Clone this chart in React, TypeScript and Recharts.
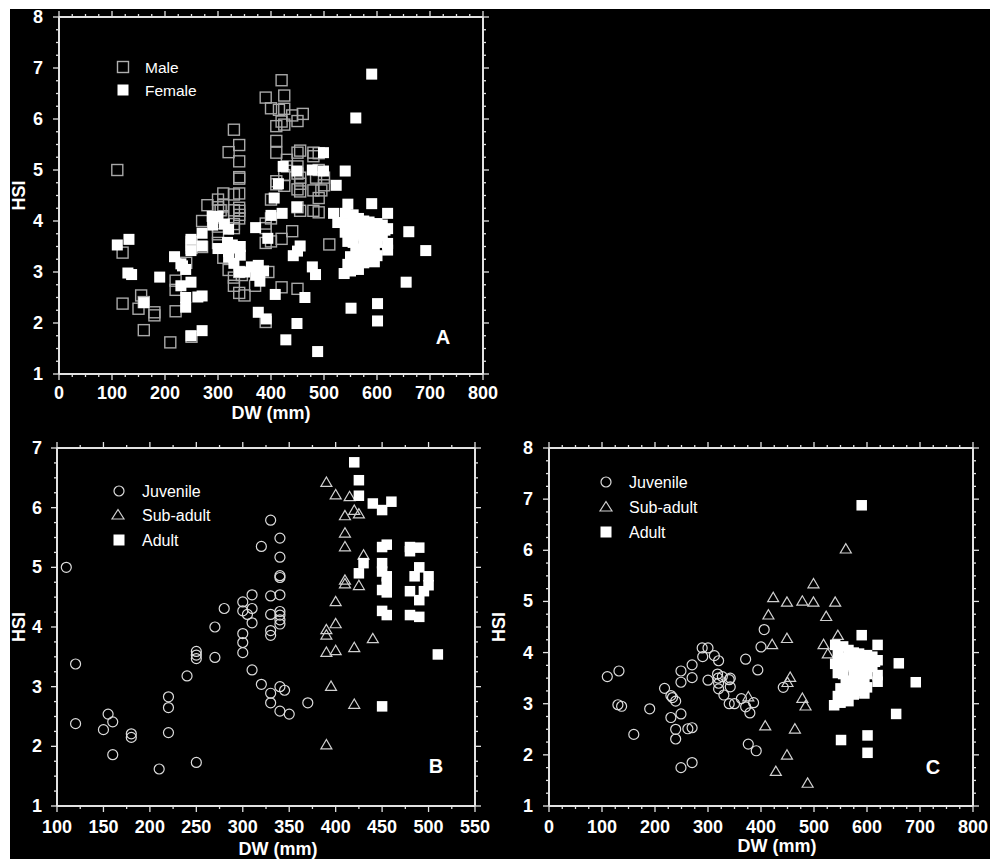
import React from 'react';
import { ScatterChart, Scatter, XAxis, YAxis } from 'recharts';

type P = [number, number];

// ---------- Data (DW mm, HSI) ----------
// Panel B (males by maturity)
const bJuvenile: P[] = [
  [110, 5.0], [120, 3.38], [120, 2.38], [150, 2.28], [155, 2.54], [160, 2.41], [160, 1.86],
  [180, 2.21], [180, 2.15], [210, 1.62], [220, 2.83], [220, 2.65], [220, 2.23], [240, 3.18],
  [250, 3.59], [250, 3.53], [250, 3.47], [250, 1.73], [270, 4.0], [270, 3.49], [280, 4.31],
  [300, 4.42], [300, 4.27], [300, 3.89], [300, 3.74], [300, 3.57], [305, 4.21], [310, 4.54],
  [310, 4.31], [310, 4.07], [310, 3.28], [320, 5.35], [320, 3.04], [330, 5.79], [330, 4.52],
  [330, 4.21], [330, 3.94], [330, 3.86], [330, 2.89], [330, 2.73], [340, 5.49], [340, 5.17],
  [340, 4.86], [340, 4.83], [340, 4.54], [340, 4.26], [340, 4.2], [340, 4.12], [340, 4.05],
  [340, 3.0], [340, 2.59], [345, 2.94], [350, 2.54], [370, 2.73],
];
const bSubAdult: P[] = [
  [390, 6.42], [400, 6.21], [415, 6.18], [420, 5.95], [425, 5.89], [410, 5.86], [410, 5.57],
  [410, 5.34], [430, 5.2], [410, 4.78], [410, 4.72], [425, 4.69], [400, 4.42], [400, 4.05],
  [390, 3.95], [390, 3.86], [440, 3.8], [420, 3.65], [390, 3.57], [400, 3.6], [395, 3.0],
  [420, 2.7], [390, 2.02],
];
const bAdult: P[] = [
  [420, 6.76], [425, 6.46], [425, 6.2], [440, 6.07], [450, 5.96], [460, 6.1], [450, 5.34],
  [455, 5.38], [430, 5.07], [425, 4.9], [450, 5.07], [450, 4.93], [455, 4.85], [455, 4.73],
  [450, 4.62], [455, 4.58], [450, 4.27], [455, 4.2], [480, 5.34], [490, 5.33], [480, 5.27],
  [490, 5.0], [485, 4.85], [500, 4.85], [500, 4.7], [480, 4.6], [495, 4.6], [490, 4.45],
  [480, 4.2], [490, 4.17], [510, 3.54], [450, 2.67],
];
// Panel C (females by maturity)
const cJuvenile: P[] = [
  [110, 3.53], [132, 3.64], [130, 2.98], [137, 2.95], [160, 2.4], [190, 2.9], [218, 3.3],
  [230, 3.16], [233, 3.12], [239, 3.05], [230, 2.73], [239, 2.5], [239, 2.31], [249, 3.64],
  [249, 3.42], [249, 2.8], [249, 1.75], [262, 2.51], [270, 2.53], [270, 1.85], [270, 3.76],
  [270, 3.51], [290, 3.92], [289, 4.09], [300, 4.09], [300, 3.46], [312, 3.94], [320, 3.84],
  [318, 3.58], [319, 3.5], [320, 3.4], [320, 3.29], [327, 3.53], [330, 3.17], [340, 3.47],
  [342, 3.5], [342, 3.33], [340, 3.0], [350, 3.0], [363, 3.1], [371, 3.87], [371, 2.94],
  [379, 2.82], [386, 3.02], [376, 2.21], [391, 2.08], [394, 3.66], [400, 4.11], [406, 4.45],
  [442, 3.32],
];
const cSubAdult: P[] = [
  [423, 5.07], [414, 4.73], [421, 4.15], [449, 4.98], [449, 4.27], [478, 5.0], [499, 4.98],
  [499, 5.34], [540, 4.98], [523, 4.7], [545, 4.33], [518, 4.15], [526, 3.97], [560, 6.02],
  [455, 3.51], [450, 3.41], [376, 3.13], [478, 3.1], [484, 2.95], [408, 2.56], [464, 2.5],
  [449, 1.99], [428, 1.67], [488, 1.44],
];
const cAdult: P[] = [
  [590, 6.88], [590, 4.34], [620, 4.15], [660, 3.79], [692, 3.42], [655, 2.8], [551, 2.29],
  [601, 2.38], [601, 2.04], [620, 3.85], [620, 3.56], [620, 3.43], [538, 2.97], [595, 3.2],
  [540, 4.15], [555, 4.12], [565, 4.05], [575, 4.0], [585, 3.98], [600, 3.95], [610, 3.92],
  [545, 3.95], [555, 3.9], [570, 3.88], [580, 3.85], [590, 3.9], [605, 3.85], [615, 3.82],
  [540, 3.78], [550, 3.72], [560, 3.75], [575, 3.72], [585, 3.7], [595, 3.75], [610, 3.72],
  [545, 3.6], [555, 3.58], [575, 3.55], [590, 3.6], [600, 3.58], [560, 3.45], [575, 3.4],
  [585, 3.42], [595, 3.48], [550, 3.3], [565, 3.28], [580, 3.3], [590, 3.25], [600, 3.32],
  [545, 3.15], [560, 3.12], [575, 3.18], [550, 3.02], [565, 3.05],
];
// Panel A: all males vs all females
const aMale: P[] = [...bJuvenile, ...bSubAdult, ...bAdult];
const aFemale: P[] = [...cJuvenile, ...cSubAdult, ...cAdult];

// Tick labels
const xMajorAC = [0, 100, 200, 300, 400, 500, 600, 700, 800];
const xMajorB = [100, 150, 200, 250, 300, 350, 400, 450, 500, 550];
const yMajor8 = [1, 2, 3, 4, 5, 6, 7, 8];
const yMajor7 = [1, 2, 3, 4, 5, 6, 7];

// ---------- Styling ----------
const FONT = '"Liberation Sans", Arial, Helvetica, sans-serif';
const AXIS = '#e2e2e2';
const WHITE = '#ffffff';

const toRows = (pts: P[]) => pts.map(([dw, hsi]) => ({ dw, hsi }));

const withMinor = (lo: number, hi: number, step: number) => {
  const out: number[] = [];
  const n = Math.round((hi - lo) / step);
  for (let i = 0; i <= n; i++) out.push(+(lo + i * step).toFixed(4));
  return out;
};
const isIn = (arr: number[], v: number) => arr.some((m) => Math.abs(m - v) < 1e-6);

// shapes
const FilledSquare = (s: number) => (p: any) =>
  p.cx == null ? <g /> : <rect x={p.cx - s / 2} y={p.cy - s / 2} width={s} height={s} fill={WHITE} />;
const OpenSquare = (s: number, color: string) => (p: any) =>
  p.cx == null ? <g /> : (
    <rect x={p.cx - s / 2} y={p.cy - s / 2} width={s} height={s} fill="none" stroke={color} strokeWidth={1.4} />
  );
const OpenCircle = (r: number) => (p: any) =>
  p.cx == null ? <g /> : <circle cx={p.cx} cy={p.cy} r={r} fill="none" stroke="#dcdcdc" strokeWidth={1.2} />;
const OpenTriangle = (w: number) => (p: any) => {
  if (p.cx == null) return <g />;
  const h = w * 0.85;
  const pts = `${p.cx},${p.cy - h * 0.6} ${p.cx - w / 2},${p.cy + h * 0.4} ${p.cx + w / 2},${p.cy + h * 0.4}`;
  return <polygon points={pts} fill="none" stroke="#d0d0d0" strokeWidth={1.2} />;
};

interface SeriesDef {
  name: string;
  data: P[];
  shape: (p: any) => React.ReactElement;
}

interface PanelProps {
  L: number; T: number; W: number; H: number;
  px0: number; px1: number; py0: number; py1: number; // page coords of the plot area
  xDomain: [number, number];
  yDomain: [number, number];
  xMajor: number[];
  yMajor: number[];
  xStep: number;
  yStep: number;
  xLabelDy: number;
  yLabelGap: number;
  xTitleX: number; xTitleY: number;
  yTitleX: number;
  series: SeriesDef[];
}

const Panel: React.FC<PanelProps> = (pp) => {
  const { L, T, W, H, px0, px1, py0, py1 } = pp;
  const wl = 40, wr = 10, ht = 10, hb = 40;
  const margin = {
    left: px0 - L - wl,
    right: L + W - px1 - wr,
    top: py0 - T - ht,
    bottom: T + H - py1 - hb,
  };
  const lx0 = px0 - L, lx1 = px1 - L, ly0 = py0 - T, ly1 = py1 - T;
  const xTicks = withMinor(pp.xDomain[0], pp.xDomain[1], pp.xStep);
  const yTicks = withMinor(pp.yDomain[0], pp.yDomain[1], pp.yStep);
  const MAJ = 6, MIN = 3;

  const xTick = (axisY: number, dir: number, label: boolean) => (props: any) => {
    const { x, payload } = props;
    const v = payload.value;
    const major = isIn(pp.xMajor, v);
    const len = major ? MAJ : MIN;
    return (
      <g>
        <line x1={x} x2={x} y1={axisY} y2={axisY + dir * len} stroke={AXIS} strokeWidth={1.3} />
        {label && major && (
          <text x={x} y={axisY + pp.xLabelDy} textAnchor="middle" dominantBaseline="central"
            fill={WHITE} fontFamily={FONT} fontWeight="bold" fontSize={18}>{v}</text>
        )}
      </g>
    );
  };
  const yTick = (axisX: number, dir: number, label: boolean) => (props: any) => {
    const { y, payload } = props;
    const v = payload.value;
    const major = isIn(pp.yMajor, v);
    const len = major ? MAJ : MIN;
    return (
      <g>
        <line x1={axisX} x2={axisX + dir * len} y1={y} y2={y} stroke={AXIS} strokeWidth={1.3} />
        {label && major && (
          <text x={axisX - pp.yLabelGap} y={y} textAnchor="end" dominantBaseline="central"
            fill={WHITE} fontFamily={FONT} fontWeight="bold" fontSize={18}>{v}</text>
        )}
      </g>
    );
  };

  const axisLine = { stroke: AXIS, strokeWidth: 2 };

  return (
    <div style={{ position: 'absolute', left: L, top: T, width: W, height: H }}>
      <ScatterChart width={W} height={H} margin={margin}>
        <XAxis xAxisId={0} type="number" dataKey="dw" domain={pp.xDomain} allowDataOverflow ticks={xTicks}
          interval={0} tickLine={false} axisLine={axisLine} tick={xTick(ly1, 1, true)} height={hb}
          label={{
            content: () => (
              <text x={pp.xTitleX - L} y={pp.xTitleY - T} textAnchor="middle" dominantBaseline="central"
                fill={WHITE} fontFamily={FONT} fontWeight="bold" fontSize={18}>DW (mm)</text>
            ),
          }} />
        <XAxis xAxisId="top" orientation="top" type="number" dataKey="dw" domain={pp.xDomain} allowDataOverflow
          ticks={xTicks} interval={0} tickLine={false} axisLine={axisLine} tick={xTick(ly0, -1, false)} height={ht} />
        <YAxis yAxisId={0} type="number" dataKey="hsi" domain={pp.yDomain} allowDataOverflow ticks={yTicks}
          interval={0} tickLine={false} axisLine={axisLine} tick={yTick(lx0, -1, true)} width={wl}
          label={{
            content: () => (
              <text x={pp.yTitleX - L} y={(ly0 + ly1) / 2} textAnchor="middle" dominantBaseline="central"
                transform={`rotate(-90 ${pp.yTitleX - L} ${(ly0 + ly1) / 2})`}
                fill={WHITE} fontFamily={FONT} fontWeight="bold" fontSize={18}>HSI</text>
            ),
          }} />
        <YAxis yAxisId="right" orientation="right" type="number" dataKey="hsi" domain={pp.yDomain} allowDataOverflow
          ticks={yTicks} interval={0} tickLine={false} axisLine={axisLine} tick={yTick(lx1, 1, false)} width={wr} />
        {pp.series.map((s) => (
          <Scatter key={s.name} name={s.name} data={toRows(s.data)} xAxisId={0} yAxisId={0}
            shape={s.shape} isAnimationActive={false} />
        ))}
      </ScatterChart>
    </div>
  );
};

const LegendItem: React.FC<{ x: number; y: number; kind: string; text: string; fs: number; tx: number }> = ({ x, y, kind, text, fs, tx }) => {
  let sym: React.ReactElement;
  if (kind === 'openSq') sym = <rect x={x - 5.5} y={y - 5.5} width={11} height={11} fill="none" stroke="#b0b0b0" strokeWidth={1.4} />;
  else if (kind === 'fillSq') sym = <rect x={x - 5.5} y={y - 5.5} width={11} height={11} fill={WHITE} />;
  else if (kind === 'circle') sym = <circle cx={x} cy={y} r={5} fill="none" stroke="#dcdcdc" strokeWidth={1.2} />;
  else sym = <polygon points={`${x},${y - 5.5} ${x - 6},${y + 4} ${x + 6},${y + 4}`} fill="none" stroke="#d0d0d0" strokeWidth={1.2} />;
  return (
    <g>
      {sym}
      <text x={tx} y={y} dominantBaseline="central" fill={WHITE} fontFamily={FONT} fontSize={fs}>{text}</text>
    </g>
  );
};

export default function App() {
  return (
    <div style={{ position: 'absolute', left: 0, top: 0, width: 990, height: 859, background: '#ffffff', overflow: 'hidden' }}>
      <div style={{ position: 'absolute', left: 10, top: 9, right: 0, bottom: 0, background: '#000000' }} />
      <Panel L={0} T={0} W={520} H={430} px0={59} px1={483} py0={17} py1={374}
        xDomain={[0, 800]} yDomain={[1, 8]} xMajor={xMajorAC} yMajor={yMajor8} xStep={25} yStep={0.25}
        xLabelDy={19} yLabelGap={16} xTitleX={271} xTitleY={413} yTitleX={19}
        series={[
          { name: 'Male', data: aMale, shape: OpenSquare(11, '#a8a8a8') },
          { name: 'Female', data: aFemale, shape: FilledSquare(11) },
        ]} />
      <Panel L={0} T={430} W={520} H={429} px0={57} px1={475} py0={448} py1={806}
        xDomain={[100, 550]} yDomain={[1, 7]} xMajor={xMajorB} yMajor={yMajor7} xStep={25} yStep={0.25}
        xLabelDy={21} yLabelGap={15} xTitleX={278} xTitleY={849} yTitleX={19}
        series={[
          { name: 'Juvenile', data: bJuvenile, shape: OpenCircle(5) },
          { name: 'Sub-adult', data: bSubAdult, shape: OpenTriangle(11) },
          { name: 'Adult', data: bAdult, shape: FilledSquare(10.5) },
        ]} />
      <Panel L={490} T={430} W={500} H={429} px0={549} px1={973} py0={448} py1={806}
        xDomain={[0, 800]} yDomain={[1, 8]} xMajor={xMajorAC} yMajor={yMajor8} xStep={25} yStep={0.25}
        xLabelDy={21} yLabelGap={16} xTitleX={777} xTitleY={846} yTitleX={499}
        series={[
          { name: 'Juvenile', data: cJuvenile, shape: OpenCircle(5) },
          { name: 'Sub-adult', data: cSubAdult, shape: OpenTriangle(11) },
          { name: 'Adult', data: cAdult, shape: FilledSquare(10.5) },
        ]} />
      <svg width={990} height={859} style={{ position: 'absolute', left: 0, top: 0, pointerEvents: 'none' }}>
        <LegendItem x={123} y={67} kind="openSq" text="Male" fs={15.5} tx={145} />
        <LegendItem x={123} y={90} kind="fillSq" text="Female" fs={15.5} tx={145} />
        <text x={443} y={337} textAnchor="middle" dominantBaseline="central" fill={WHITE} fontFamily={FONT} fontWeight="bold" fontSize={20}>A</text>

        <LegendItem x={119} y={491} kind="circle" text="Juvenile" fs={16} tx={142} />
        <LegendItem x={118} y={515} kind="tri" text="Sub-adult" fs={16} tx={142} />
        <LegendItem x={119} y={540} kind="fillSq" text="Adult" fs={16} tx={142} />
        <text x={436} y={766} textAnchor="middle" dominantBaseline="central" fill={WHITE} fontFamily={FONT} fontWeight="bold" fontSize={20}>B</text>

        <LegendItem x={606} y={482} kind="circle" text="Juvenile" fs={16} tx={629} />
        <LegendItem x={606} y={507} kind="tri" text="Sub-adult" fs={16} tx={629} />
        <LegendItem x={606} y={532} kind="fillSq" text="Adult" fs={16} tx={629} />
        <text x={933} y={767} textAnchor="middle" dominantBaseline="central" fill={WHITE} fontFamily={FONT} fontWeight="bold" fontSize={20}>C</text>
      </svg>
    </div>
  );
}
